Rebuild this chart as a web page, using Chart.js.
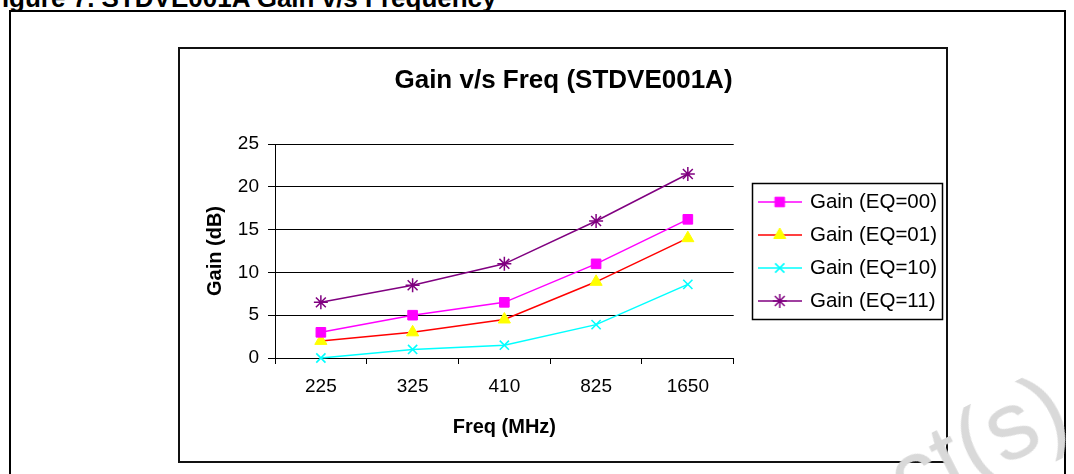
<!DOCTYPE html>
<html>
<head>
<meta charset="utf-8">
<script src="https://cdn.jsdelivr.net/npm/chart.js@4.4.0/dist/chart.umd.min.js"></script>
<style>
html, body { margin: 0; padding: 0; background: #fff; overflow: hidden; }
#wrap { position: relative; width: 1074px; height: 474px; overflow: hidden; }
#cap { position: absolute; left: -14px; top: -17px; font: bold 26px 'Liberation Sans', Arial, sans-serif; white-space: nowrap; color: #000; }
#frame { position: absolute; left: 9px; top: 10px; width: 1053px; height: 500px; border: 2px solid #000; }
#box { position: absolute; left: 178px; top: 47px; width: 766px; height: 412px; border: 2px solid #111; }
#wm { position: absolute; left: 918px; top: 424px; font: 96px 'Liberation Sans', Arial, sans-serif; color: #d9d9d9; transform: rotate(-27deg); transform-origin: 0 100%; white-space: nowrap; pointer-events: none; }
canvas { position: absolute; left: 0; top: 0; }
</style>
</head>
<body>
<div id="wrap">
  <div id="cap">Figure 7. STDVE001A Gain v/s Frequency</div>
  <div id="frame"></div>
  <div id="box"></div>
  <canvas id="gain_canvas" width="1074" height="474"></canvas>
  <div id="wm">ct(s)</div>
</div>
<script>
// values
var freqLabels = ['225', '325', '410', '825', '1650'];
var gainEq00 = [3, 5, 6.5, 11, 16.2];
var gainEq01 = [2, 3, 4.5, 8.9, 14];
var gainEq10 = [0, 1, 1.5, 3.9, 8.6];
var gainEq11 = [6.5, 8.5, 11, 16, 21.5];
var seriesNames = ['Gain (EQ=00)', 'Gain (EQ=01)', 'Gain (EQ=10)', 'Gain (EQ=11)'];
var yMin = 0, yMax = 25, yStep = 5;

var FONT = "'Liberation Sans', Arial, sans-serif";
Chart.defaults.font.family = FONT;
Chart.defaults.color = '#000';

function makeSeries(label, data, line, style, fill, radius, bw) {
    return {
        label: label,
        data: data,
        borderColor: line,
        borderWidth: 1.5,
        backgroundColor: fill,
        pointStyle: style,
        pointRadius: radius,
        pointHoverRadius: radius,
        pointBackgroundColor: fill,
        pointBorderColor: style === 'rect' || style === 'triangle' ? fill : line,
        pointBorderWidth: bw,
        tension: 0,
        fill: false,
        clip: false
    };
}

var datasets = [
    makeSeries(seriesNames[0], gainEq00, '#ff00ff', 'rect', '#ff00ff', 6.8, 1),
    makeSeries(seriesNames[1], gainEq01, '#ff0000', 'triangle', '#ffff00', 7, 1),
    makeSeries(seriesNames[2], gainEq10, '#00ffff', 'crossRot', '#00ffff', 6.5, 1.6),
    makeSeries(seriesNames[3], gainEq11, '#800080', 'star', '#800080', 7, 1.5)
];

// legend glyph: short line with the marker in the middle
function legendGlyph(ds) {
    var c = document.createElement('canvas');
    c.width = 44; c.height = 20;
    var g = c.getContext('2d');
    g.strokeStyle = ds.borderColor;
    g.lineWidth = 1.5;
    g.beginPath(); g.moveTo(0, 10); g.lineTo(44, 10); g.stroke();
    g.fillStyle = ds.pointBackgroundColor;
    g.strokeStyle = ds.pointBorderColor;
    g.lineWidth = ds.pointBorderWidth;
    Chart.helpers.drawPoint(g, { pointStyle: ds.pointStyle, radius: ds.pointRadius, borderWidth: ds.pointBorderWidth, rotation: 0 }, 22, 10);
    return c;
}

var legendFix = {
    id: 'legendFix',
    afterInit: function(chart) {
        // let the legend keep its natural width instead of the default cap
        var lg = chart.legend;
        if (!lg) return;
        var fit0 = lg.fit;
        lg.fit = function() {
            this.maxWidth = Math.max(this.maxWidth, 400);
            fit0.call(this);
        };
    },
    afterLayout: function(chart) {
        var lg = chart.legend;
        if (!lg) return;
        lg.top -= 4;
        lg.bottom -= 4;
    },
    afterDraw: function(chart) {
        var lg = chart.legend;
        if (!lg || !lg.legendHitBoxes || !lg.legendHitBoxes.length) return;
        var hb = lg.legendHitBoxes;
        var x0 = hb[0].left - 8, y0 = hb[0].top - 9;
        var last = hb[hb.length - 1];
        var x1 = x0, y1 = last.top + last.height + 7;
        hb.forEach(function(b) { x1 = Math.max(x1, b.left + b.width + 5); });
        var ctx = chart.ctx;
        ctx.save();
        ctx.strokeStyle = '#000';
        ctx.lineWidth = 1.5;
        ctx.strokeRect(Math.round(x0) + 0.5, Math.round(y0) + 0.5, Math.round(x1 - x0), Math.round(y1 - y0));
        ctx.restore();
    }
};

new Chart(document.getElementById('gain_canvas').getContext('2d'), {
    type: 'line',
    data: { labels: freqLabels, datasets: datasets },
    options: {
        responsive: false,
        animation: false,
        events: [],
        layout: { padding: { left: 180, top: 49, right: 127, bottom: 12 } },
        plugins: {
            tooltip: { enabled: false },
            title: {
                display: true,
                text: 'Gain v/s Freq (STDVE001A)',
                font: { size: 26, weight: 'bold' },
                color: '#000',
                padding: { top: 16, bottom: 47.8 }
            },
            legend: {
                position: 'right',
                labels: {
                    usePointStyle: true,
                    pointStyleWidth: 40,
                    padding: 12.5,
                    color: '#000',
                    font: { size: 20.5 },
                    generateLabels: function(chart) {
                        var items = Chart.defaults.plugins.legend.labels.generateLabels(chart);
                        items.forEach(function(it) {
                            it.pointStyle = legendGlyph(chart.data.datasets[it.datasetIndex]);
                        });
                        return items;
                    }
                }
            }
        },
        scales: {
            x: {
                offset: true,
                grid: { display: true, offset: true, drawOnChartArea: false, drawTicks: true, tickLength: 6, color: '#000', lineWidth: 1 },
                border: { display: true, color: '#000', width: 1 },
                ticks: { font: { size: 19 }, padding: 11, color: '#000', maxRotation: 0 },
                title: { display: true, text: 'Freq (MHz)', font: { size: 20, weight: 'bold' }, color: '#000', padding: { top: 0, bottom: 23 } },
                afterFit: function(s) { s.height = 104; }
            },
            y: {
                min: yMin,
                max: yMax,
                grid: { color: '#000', lineWidth: 1, drawTicks: true, tickLength: 7 },
                border: { display: true, color: '#000', width: 1 },
                ticks: { stepSize: yStep, font: { size: 19 }, padding: 9, color: '#000' },
                title: { display: true, text: 'Gain (dB)', font: { size: 20, weight: 'bold' }, color: '#000', padding: { top: 23, bottom: 0 } },
                afterFit: function(s) { s.width = 95; }
            },
            gap: {
                type: 'linear',
                position: 'right',
                display: true,
                grid: { display: false },
                border: { display: false },
                ticks: { display: false },
                afterFit: function(s) { s.width = 13.5; }
            }
        }
    },
    plugins: [legendFix]
});
</script>
</body>
</html>
